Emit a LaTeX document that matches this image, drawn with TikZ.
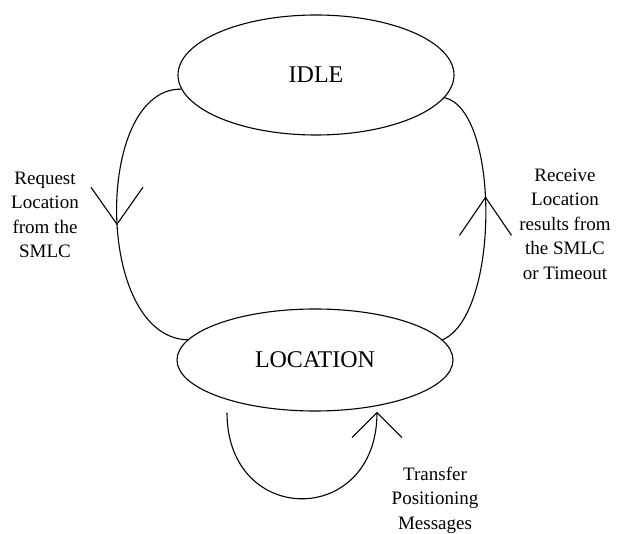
\documentclass[tikz,border=0pt]{standalone}
\usepackage{fontspec}
\setmainfont{Liberation Serif}
\usetikzlibrary{calc,shapes.geometric}

\begin{document}
\begin{tikzpicture}[x=1pt,y=-1pt,line width=1.1pt,
    state/.style={draw,ellipse,inner sep=0pt,font=\fontsize{24}{28}\selectfont},
    lbl/.style={align=center,font=\fontsize{19}{24.5}\selectfont}]
  \useasboundingbox (0,0) rectangle (619,534);
  \node[state,minimum width=276pt,minimum height=120pt] (idle) at (316,75) {IDLE};
  \node[state,minimum width=276pt,minimum height=102pt] (loc) at (315,360) {LOCATION};
  % transitions between the two states
  \draw (idle.186) .. controls (94,88) and (94,337) .. coordinate[pos=0.53] (tipL) (loc.171);
  \draw (idle.350) .. controls (500,110) and (500,315) .. coordinate[pos=0.45] (tipR) (loc.9);
  % self loop under LOCATION
  \coordinate (loopA) at ($(loc.south)+(-88,1)$);
  \coordinate (loopB) at ($(loc.south)+(62,1)$);
  \draw (loopA) .. controls ($(loopA)+(0,115)$) and ($(loopB)+(0,115)$) .. (loopB);
  \foreach \t/\dx/\dy in {tipL/26/-37,tipR/26/38,loopB/25/25}
    \draw ($(\t)+(-\dx,\dy)$) -- (\t) -- ($(\t)+(\dx,\dy)$);
  \node[lbl] (req) at (45,215) {Request\\Location\\from the\\SMLC};
  \node[lbl] (rcv) at (565,224) {Receive\\Location\\results from\\the SMLC\\or Timeout};
  \node[lbl] (xfer) at (435,500) {Transfer\\Positioning\\Messages};
\end{tikzpicture}
\end{document}
